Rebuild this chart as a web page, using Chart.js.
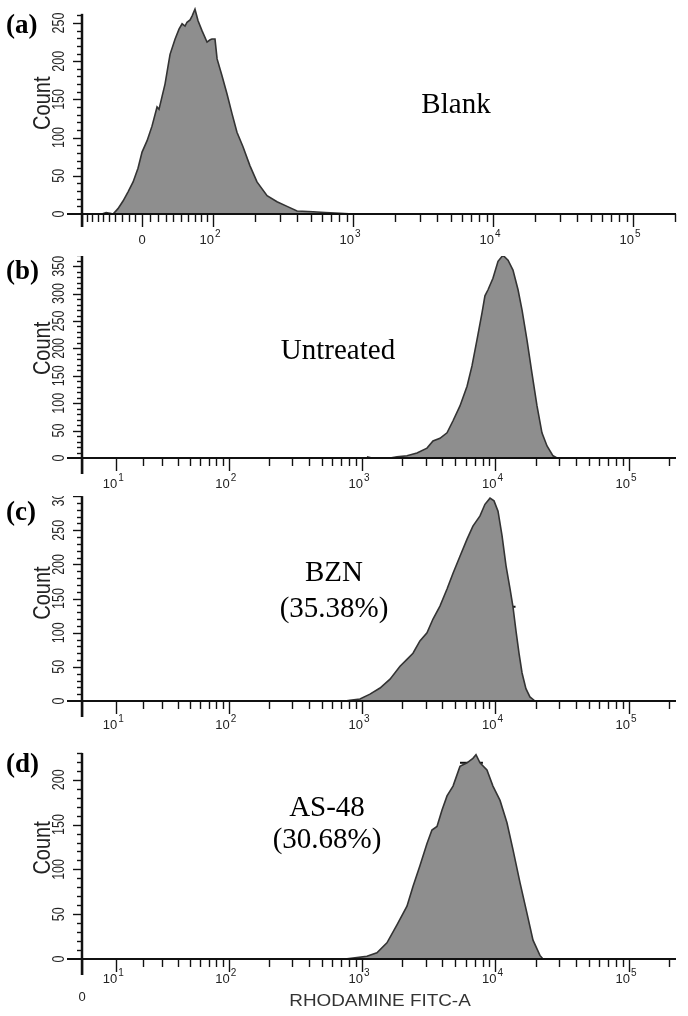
<!DOCTYPE html>
<html><head><meta charset="utf-8">
<script src="https://cdn.jsdelivr.net/npm/chart.js@4.4.1/dist/chart.umd.min.js"></script>
<style>
html,body{margin:0;padding:0;background:#fff;width:688px;height:1016px;overflow:hidden;position:relative}
canvas{position:absolute;left:0}
</style></head><body>
<canvas id="cA" width="688" height="250" style="top:0px"></canvas>
<canvas id="cB" width="688" height="240" style="top:256px"></canvas>
<canvas id="cC" width="688" height="250" style="top:496px"></canvas>
<canvas id="cD" width="688" height="271" style="top:745px"></canvas>
<script>
// ---------- DATA (x = display position on the biexponential decade scale, y = Count) ----------
const xA = [1.207,1.236,1.264,1.286,1.321,1.357,1.393,1.429,1.464,1.493,1.529,1.564,1.600,1.614,1.636,1.657,1.679,1.693,1.729,1.757,1.779,1.800,1.814,1.836,1.850,1.871,1.893,1.921,1.957,1.979,1.993,2.014,2.029,2.064,2.100,2.136,2.171,2.214,2.264,2.314,2.386,2.457,2.529,2.600,2.714,2.800,2.907,3.000];
const countA = [0,2,1,0,7,17,29,42,60,81,96,115,140,137,154,170,194,209,229,242,249,246,251,254,259,268,253,240,225,228,229,229,203,181,157,131,107,88,63,42,24,16,10,4,3,2,1,0];

const xB = [3.037,3.075,3.210,3.262,3.337,3.412,3.487,3.532,3.584,3.637,3.682,3.734,3.787,3.824,3.861,3.899,3.921,3.944,3.981,4.019,4.056,4.094,4.131,4.169,4.199,4.236,4.273,4.311,4.348,4.386,4.431,4.461];
const countB = [2,0,0,2,4,9,18,31,36,46,68,95,131,168,215,265,296,307,328,359,370,361,343,307,270,215,155,95,46,22,4,0];

const xC = [2.873,2.910,2.985,3.060,3.135,3.210,3.285,3.337,3.382,3.434,3.487,3.532,3.584,3.637,3.682,3.734,3.787,3.831,3.884,3.921,3.959,3.989,4.019,4.049,4.079,4.109,4.131,4.154,4.176,4.199,4.228,4.258,4.296];
const countC = [0,1,3,10,19,32,51,61,70,88,100,120,139,164,187,212,237,256,271,288,297,293,278,242,198,164,138,102,70,41,18,6,0];

const xD = [2.873,2.933,3.037,3.112,3.187,3.262,3.337,3.382,3.434,3.487,3.524,3.562,3.599,3.637,3.682,3.734,3.787,3.831,3.854,3.884,3.936,3.981,4.034,4.086,4.131,4.184,4.236,4.281,4.333,4.356];
const countD = [0,1,3,7,18,38,59,81,104,129,144,148,166,182,193,215,219,224,228,219,211,193,177,152,122,85,51,21,4,0];

// gate markers
const gateCLeftX = [3.584,3.637], gateCRightX = [4.100,4.150], gateCY = 138;
const gateDX = [3.734,3.906], gateDY = 219;

// labels
const panelLetters = ['(a)','(b)','(c)','(d)'];
const sampleNames = ['Blank','Untreated','BZN','AS-48'];
const samplePercents = ['', '', '(35.38%)', '(30.68%)'];
const yLabelsA = [0,50,100,150,200,250];
const yLabelsB = [0,50,100,150,200,250,300,350];
const yLabelsC = [0,50,100,150,200,250,300];
const yLabelsD = [0,50,100,150,200];
const decadesA = [2,3,4,5];
const decadesBCD = [1,2,3,4,5];
const yTitle = 'Count';
const xTitle = 'RHODAMINE FITC-A';

// ---------- axis transforms (biexponential display) ----------
const W_BCD = 8;
function dispBCD(v){ return Math.asinh(v/(2*W_BCD))/Math.LN10 + Math.log10(W_BCD); }
const A_ZERO = 1.493, A_NEG100 = 1.064;
function dispA(v){
  if (v >= 100) return Math.log10(v);
  const f = Math.asinh(Math.abs(v)/100)/Math.asinh(1);
  return v >= 0 ? A_ZERO + (2-A_ZERO)*f : A_ZERO - (A_ZERO-A_NEG100)*f;
}

function tickList(isA){
  const t = [];
  const disp = isA ? dispA : dispBCD;
  if (isA){
    for (let k=1;k<=10;k++) t.push({u:disp(-10*k), len: k===10?13:8});
    t.push({u:disp(0), len:13});
    for (let k=1;k<=9;k++) t.push({u:disp(10*k), len:8});
  } else {
    t.push({u:disp(0), len:16});
    t.push({u:disp(10), len:13});
    for (let m=2;m<=9;m++) t.push({u:disp(10*m), len:8});
  }
  for (let e=2;e<=5;e++){
    t.push({u:disp(Math.pow(10,e)), len:13});
    const top = e===5 ? 2 : 9;
    for (let m=2;m<=top;m++) t.push({u:disp(m*Math.pow(10,e)), len:8});
  }
  return t;
}

const SANS = '"Liberation Sans", Arial, sans-serif';
const SERIF = '"Liberation Serif", "Times New Roman", serif';

function makePanel(o){
  const disp = o.isA ? dispA : dispBCD;
  const plugin = {
    id: 'axes'+o.idx,
    afterDatasetsDraw(chart){
      const ctx = chart.ctx, xs = chart.scales.x, ys = chart.scales.y;
      const y0 = ys.getPixelForValue(0);
      const xL = xs.getPixelForValue(o.xMin);
      const xR = xs.getPixelForValue(o.xMax);
      ctx.save();
      ctx.strokeStyle = '#111';
      ctx.lineWidth = 2;
      ctx.beginPath(); ctx.moveTo(xL-15, y0); ctx.lineTo(xR, y0); ctx.stroke();
      ctx.lineWidth = 2.5;
      ctx.beginPath(); ctx.moveTo(xL, y0+ (o.isA?13:16)); ctx.lineTo(xL, ys.getPixelForValue(o.yAxisTop)); ctx.stroke();
      ctx.lineWidth = 1.4;
      for (let v=10; v<=o.yAxisTop; v+=10){
        const y = Math.round(ys.getPixelForValue(v))+0.5;
        const len = v%50===0 ? 9 : 5;
        ctx.beginPath(); ctx.moveTo(xL-len, y); ctx.lineTo(xL, y); ctx.stroke();
      }
      tickList(o.isA).forEach(t=>{
        const x = Math.round(xs.getPixelForValue(t.u))+0.5;
        if (x < xL-1 || x > xR+1) return;
        ctx.beginPath(); ctx.moveTo(x, y0); ctx.lineTo(x, y0+t.len); ctx.stroke();
      });
      ctx.fillStyle = '#222';
      ctx.font = '12.5px '+SANS;
      ctx.textAlign = 'center'; ctx.textBaseline = 'middle';
      o.yLabels.forEach(v=>{
        const y = ys.getPixelForValue(v);
        ctx.save(); ctx.translate(xL-22, y); ctx.scale(1.3,1); ctx.rotate(-Math.PI/2);
        ctx.fillText(String(v), 0, 0); ctx.restore();
      });
      ctx.save(); ctx.font = '20px '+SANS; ctx.fillStyle = '#222';
      ctx.translate(xL-39, ys.getPixelForValue(o.yTitleAt)); ctx.scale(1.2,1); ctx.rotate(-Math.PI/2);
      ctx.fillText(yTitle, 0, 0); ctx.restore();
      const ly = y0 + o.xLabelDy;
      ctx.textBaseline = 'middle';
      o.decades.forEach(e=>{
        const x = xs.getPixelForValue(disp(Math.pow(10,e)));
        ctx.font = '13px '+SANS; ctx.textAlign = 'right';
        ctx.fillText('10', x+1, ly);
        ctx.font = '10px '+SANS; ctx.textAlign = 'left';
        ctx.fillText(String(e), x+2, ly-6);
      });
      if (o.zeroLabel){
        ctx.font = '13px '+SANS; ctx.textAlign = 'center';
        ctx.fillText('0', xs.getPixelForValue(disp(0)), y0 + o.zeroLabelDy);
      }
      if (o.xTitle){
        ctx.save(); ctx.font = '16px '+SANS; ctx.fillStyle = '#333';
        ctx.translate(380, y0 + 43); ctx.scale(1.18,1); ctx.textAlign='center';
        ctx.fillText(xTitle, 0, 0); ctx.restore();
      }
      ctx.fillStyle = '#000';
      ctx.font = 'bold 27px '+SERIF; ctx.textAlign = 'left'; ctx.textBaseline = 'middle';
      ctx.fillText(panelLetters[o.idx], 6, o.letterY - o.top);
      ctx.font = '29px '+SERIF; ctx.textAlign = 'center';
      ctx.fillText(sampleNames[o.idx], o.nameX, o.nameY - o.top);
      if (samplePercents[o.idx]) ctx.fillText(samplePercents[o.idx], o.nameX, o.pctY - o.top);
      ctx.restore();
    }
  };
  const datasets = [{
    data: o.xs.map((x,i)=>({x:x, y:o.counts[i]})),
    borderColor: '#333', borderWidth: 1.6, backgroundColor: '#8e8e8e',
    fill: 'origin', pointRadius: 0, tension: 0, clip: 6
  }];
  (o.gates||[]).forEach(g=>{
    datasets.push({data: g.xs.map(x=>({x:x, y:g.y})), borderColor:'#111', borderWidth:2,
      fill:false, pointRadius:0, clip:6});
  });
  return new Chart(document.getElementById(o.canvas), {
    type: 'line',
    data: { datasets },
    options: {
      responsive: false, animation: false, devicePixelRatio: 1,
      layout: { padding: { left: 82, right: 12, top: o.chartTop - o.top, bottom: o.height - (o.baseline - o.top) } },
      plugins: { legend: {display:false}, tooltip: {enabled:false} },
      scales: {
        x: { type:'linear', display:false, min:o.xMin, max:o.xMax },
        y: { type:'linear', display:false, min:0, max:o.yMax }
      }
    },
    plugins: [plugin]
  });
}

makePanel({idx:0, canvas:'cA', isA:true, top:0, height:250, chartTop:8, baseline:214,
  xMin:A_NEG100, xMax:5.307, yMax:(214-8)/0.764, yAxisTop:262,
  xs:xA, counts:countA, yLabels:yLabelsA, yTitleAt:145, decades:decadesA,
  zeroLabel:true, zeroLabelDy:26, xLabelDy:26,
  letterY:26, nameX:456, nameY:105});
makePanel({idx:1, canvas:'cB', isA:false, top:256, height:240, chartTop:256, baseline:458,
  xMin:dispBCD(0), xMax:5.352, yMax:202/0.548, yAxisTop:370,
  xs:xB, counts:countB, yLabels:yLabelsB, yTitleAt:200, decades:decadesBCD,
  xLabelDy:26, letterY:272, nameX:338, nameY:351});
makePanel({idx:2, canvas:'cC', isA:false, top:496, height:250, chartTop:496, baseline:701,
  xMin:dispBCD(0), xMax:5.352, yMax:205/0.683, yAxisTop:300,
  xs:xC, counts:countC, yLabels:yLabelsC, yTitleAt:158, decades:decadesBCD,
  xLabelDy:24, letterY:513, nameX:334, nameY:573, pctY:609,
  gates:[{xs:gateCLeftX, y:gateCY},{xs:gateCRightX, y:gateCY}]});
makePanel({idx:3, canvas:'cD', isA:false, top:745, height:271, chartTop:753, baseline:959,
  xMin:dispBCD(0), xMax:5.352, yMax:206/0.896, yAxisTop:230,
  xs:xD, counts:countD, yLabels:yLabelsD, yTitleAt:124, decades:decadesBCD,
  zeroLabel:true, zeroLabelDy:38, xLabelDy:20, xTitle:true,
  letterY:765, nameX:327, nameY:808, pctY:840,
  gates:[{xs:gateDX, y:gateDY}]});
</script>
</body></html>
